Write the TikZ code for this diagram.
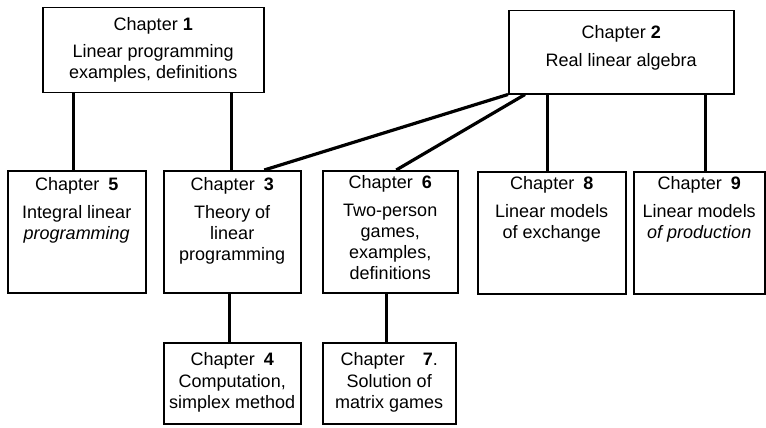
\documentclass[tikz,border=0pt]{standalone}
\usepackage{fontspec}
\setmainfont{Liberation Sans}
\usetikzlibrary{positioning}

\begin{document}
\begin{tikzpicture}[
        x=1pt, y=-1pt,
        every node/.style={
                font=\fontsize{18}{21}\selectfont
            },
        link/.style={line width=3.2pt}
    ]
    \tikzset  {
        chapbox/.style = {rectangle, draw=black, line width=1.5pt, inner sep=0pt, anchor=north west},
        chaptext/.style = {align=center, inner sep=0pt},
    }
    \useasboundingbox (0,0) rectangle (766,428);
    % top row
    \node [chapbox, minimum width=221, minimum height=85] (c1) at (42,7) {};
    \node [chapbox, minimum width=225, minimum height=83] (c2) at (508,10) {};
    % middle row
    \node [chapbox, minimum width=138, minimum height=122] (c5) at (7,170) {};
    \node [chapbox, minimum width=137, minimum height=122] (c3) at (163,170) {};
    \node [chapbox, minimum width=135, minimum height=122] (c6) at (322,170) {};
    \node [chapbox, minimum width=148, minimum height=122] (c8) at (477,171) {};
    \node [chapbox, minimum width=131, minimum height=122] (c9) at (633,171) {};
    % bottom row
    \node [chapbox, minimum width=137, minimum height=81] (c4) at (163,342) {};
    \node [chapbox, minimum width=133, minimum height=81] (c7) at (322,342) {};

    % texts
    \node [chaptext, below=10pt of c1.north] (t1)
        {Chapter \textbf{1}\\[6pt] Linear programming\\ examples, definitions};
    \node [chaptext, below=15pt of c2.north] (t2)
        {Chapter \textbf{2}\\[7pt] Real linear algebra};
    \node [chaptext, below=7pt of c5.north] (t5)
        {Chapter\enspace\textbf{5}\\[7pt] Integral linear\\ \textit{programming}};
    \node [chaptext, below=7pt of c3.north] (t3)
        {Chapter\enspace\textbf{3}\\[7pt] Theory of\\ linear\\ programming};
    \node [chaptext, below=5pt of c6.north] (t6)
        {Chapter\enspace\textbf{6}\\[7pt] Two-person\\ games,\\ examples,\\ definitions};
    \node [chaptext, below=5pt of c8.north] (t8)
        {Chapter\enspace\textbf{8}\\[7pt] Linear models\\ of exchange};
    \node [chaptext, below=5pt of c9.north] (t9)
        {Chapter\enspace\textbf{9}\\[7pt] Linear models\\ \textit{of production}};
    \node [chaptext, below=10pt of c4.north] (t4)
        {Chapter\enspace\textbf{4}\\[1pt] Computation,\\ simplex method};
    \node [chaptext, below=10pt of c7.north] (t7)
        {Chapter\enspace\enspace\textbf{7}.\\[1pt] Solution of\\ matrix games};

    % links
    \draw [link] ([xshift=-3pt]c5.north) -- ([xshift=-3pt]c5.north |- c1.south);
    \draw [link] ([xshift=-1pt]c3.north) -- ([xshift=-1pt]c3.north |- c1.south);
    \draw [link] (c2.south west) -- ([xshift=32pt]c3.north);
    \draw [link] ([xshift=17pt]c2.south west) -- ([xshift=6pt]c6.north);
    \draw [link] ([xshift=-4pt]c8.north) -- ([xshift=-4pt]c8.north |- c2.south);
    \draw [link] ([xshift=6pt]c9.north) -- ([xshift=6pt]c9.north |- c2.south);
    \draw [link] ([xshift=-3pt]c4.north) -- ([xshift=-3pt]c4.north |- c3.south);
    \draw [link] ([xshift=-3pt]c7.north) -- ([xshift=-3pt]c7.north |- c6.south);
\end{tikzpicture}
\end{document}
